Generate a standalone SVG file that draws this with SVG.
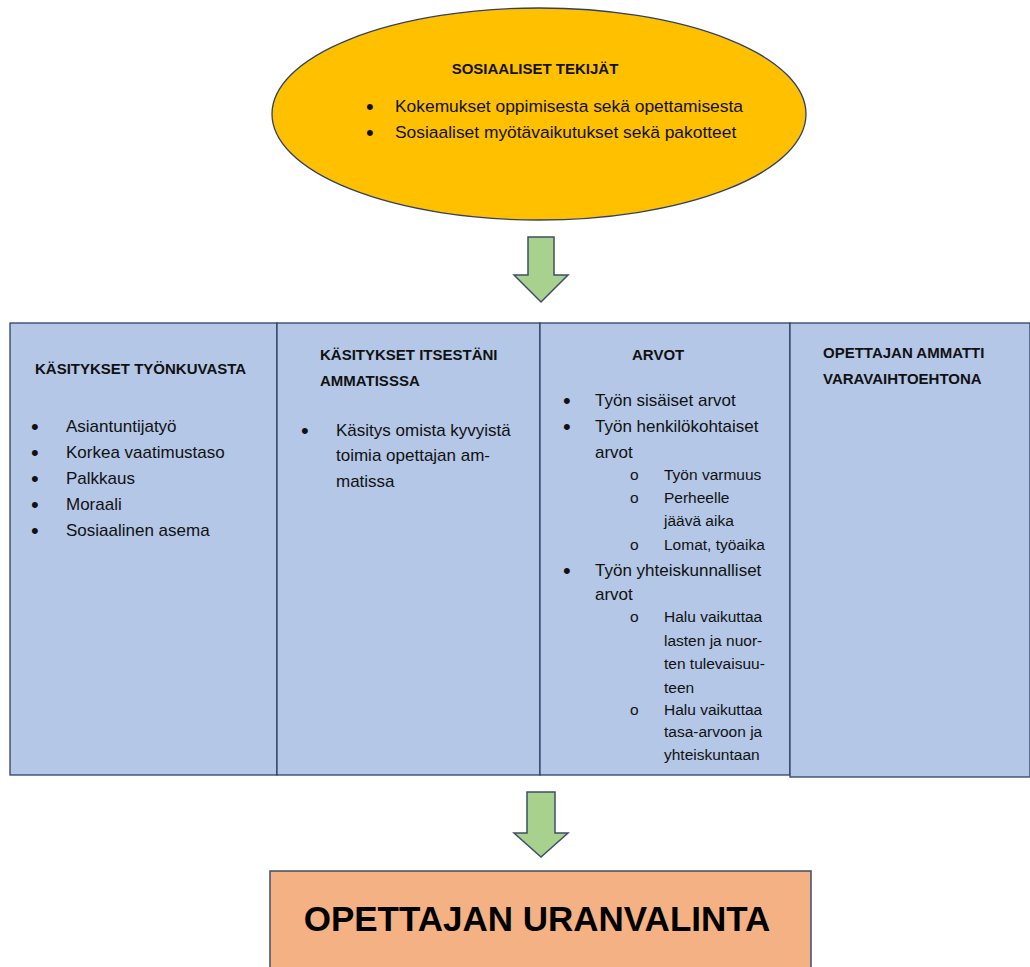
<svg xmlns="http://www.w3.org/2000/svg" width="1030" height="967" viewBox="0 0 1030 967">
<style>
.h{font-family:"Liberation Sans",Arial,sans-serif;font-weight:bold;font-size:15px;fill:#111}
.t{font-family:"Liberation Sans",Arial,sans-serif;font-size:17px;fill:#111}
.e{font-family:"Liberation Sans",Arial,sans-serif;font-size:17.4px;fill:#111}
.s{font-family:"Liberation Sans",Arial,sans-serif;font-size:15.5px;fill:#111}
.b{font-family:"Liberation Sans",Arial,sans-serif;font-size:22px;fill:#111}
.col{fill:#B4C7E7;stroke:#2F4166;stroke-width:1.3}
.arrow{fill:#A9D18E;stroke:#3F4E6A;stroke-width:1.5;stroke-linejoin:miter}
</style>
<rect width="1030" height="967" fill="#fff"/>
<g id="sosiaaliset">
<ellipse cx="539" cy="114" rx="267" ry="106" fill="#FFC000" stroke="#2F4166" stroke-width="1.3"/>
<text class="h" x="535" y="74" text-anchor="middle">SOSIAALISET TEKIJÄT</text>
<text class="b" x="366" y="114">•</text>
<text class="e" x="395" y="112">Kokemukset oppimisesta sekä opettamisesta</text>
<text class="b" x="366" y="140">•</text>
<text class="e" x="395" y="138">Sosiaaliset myötävaikutukset sekä pakotteet</text>
</g>
<g id="connectors">
<polygon class="arrow" points="528,237 554,237 554,275 568,275 541,302 514,275 528,275"/>
<polygon class="arrow" points="527,792 555,792 555,833 568,833 541,857 514,833 527,833"/>
</g>
<g id="tyonkuva">
<rect class="col" x="10" y="323" width="267" height="452"/>
<text class="h" x="35" y="374">KÄSITYKSET TYÖNKUVASTA</text>
<text class="b" x="31" y="434">•</text><text class="t" x="66" y="432">Asiantuntijatyö</text>
<text class="b" x="31" y="460">•</text><text class="t" x="66" y="458">Korkea vaatimustaso</text>
<text class="b" x="31" y="486">•</text><text class="t" x="66" y="484">Palkkaus</text>
<text class="b" x="31" y="512">•</text><text class="t" x="66" y="510">Moraali</text>
<text class="b" x="31" y="538">•</text><text class="t" x="66" y="536">Sosiaalinen asema</text>
</g>
<g id="itsestani">
<rect class="col" x="277" y="323" width="263" height="452"/>
<text class="h" x="320" y="360">KÄSITYKSET ITSESTÄNI</text>
<text class="h" x="320" y="386">AMMATISSSA</text>
<text class="b" x="301" y="438">•</text><text class="t" x="336" y="436">Käsitys omista kyvyistä</text>
<text class="t" x="336" y="461">toimia opettajan am-</text>
<text class="t" x="336" y="487">matissa</text>
</g>
<g id="arvot">
<rect class="col" x="540" y="323" width="250" height="452"/>
<text class="h" x="632" y="360">ARVOT</text>
<text class="b" x="563" y="408">•</text><text class="t" x="595" y="406">Työn sisäiset arvot</text>
<text class="b" x="563" y="434">•</text><text class="t" x="595" y="432">Työn henkilökohtaiset</text>
<text class="t" x="595" y="458">arvot</text>
<text class="s" x="630" y="480">o</text><text class="s" x="664" y="480">Työn varmuus</text>
<text class="s" x="630" y="503">o</text><text class="s" x="664" y="503">Perheelle</text>
<text class="s" x="664" y="526">jäävä aika</text>
<text class="s" x="630" y="550">o</text><text class="s" x="664" y="550">Lomat, työaika</text>
<text class="b" x="563" y="578">•</text><text class="t" x="595" y="576">Työn yhteiskunnalliset</text>
<text class="t" x="595" y="600">arvot</text>
<text class="s" x="630" y="622">o</text><text class="s" x="664" y="622">Halu vaikuttaa</text>
<text class="s" x="664" y="646">lasten ja nuor-</text>
<text class="s" x="664" y="669">ten tulevaisuu-</text>
<text class="s" x="664" y="693">teen</text>
<text class="s" x="630" y="715">o</text><text class="s" x="664" y="715">Halu vaikuttaa</text>
<text class="s" x="664" y="737">tasa-arvoon ja</text>
<text class="s" x="664" y="760">yhteiskuntaan</text>
</g>
<g id="varavaihtoehto">
<rect class="col" x="790" y="323" width="240" height="454"/>
<text class="h" x="823" y="358">OPETTAJAN AMMATTI</text>
<text class="h" x="823" y="384">VARAVAIHTOEHTONA</text>
</g>
<g id="uranvalinta">
<rect x="270" y="871" width="541" height="110" fill="#F4B183" stroke="#3F4E6A" stroke-width="1.5"/>
<text x="537" y="931" text-anchor="middle" font-family="'Liberation Sans',Arial,sans-serif" font-weight="bold" font-size="35" fill="#000">OPETTAJAN URANVALINTA</text>
</g>
</svg>
